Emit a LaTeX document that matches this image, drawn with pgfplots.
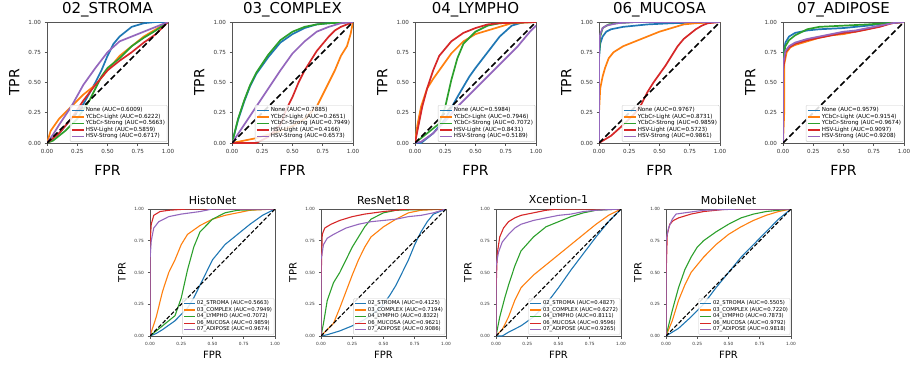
\documentclass[border=0pt]{standalone}
\usepackage{pgfplots}
\pgfplotsset{compat=1.18}
\usepackage{fontspec}
\setmainfont{DejaVu Sans}
\definecolor{c1}{HTML}{1F77B4}
\definecolor{c2}{HTML}{FF7F0E}
\definecolor{c3}{HTML}{2CA02C}
\definecolor{c4}{HTML}{D62728}
\definecolor{c5}{HTML}{9467BD}
\definecolor{fr}{HTML}{555555}
\pgfplotsset{
  every axis title/.style={at={(0.5,1)}, anchor=center},
  rocbase/.style={scale only axis, xmin=0, xmax=1, ymin=0, ymax=1,
    xtick={0,0.25,0.5,0.75,1}, ytick={0,0.25,0.5,0.75,1},
    xticklabels={0.00,0.25,0.50,0.75,1.00}, yticklabels={0.00,0.25,0.50,0.75,1.00},
    tick align=outside, xtick pos=bottom, ytick pos=left,
    axis line style={fr, line width=1pt}, tick style={fr, line width=0.6pt},
    major tick length=2.5pt, clip=true,
    tick label style={text=black!80},
    legend cell align=left,
    legend style={at={(0.995,0.01)}, anchor=south east, draw=black!20, rounded corners=1pt,
      fill=white, fill opacity=0.85, text opacity=1, font=\fontsize{5.6}{6}\selectfont,
      row sep=-1.6pt, inner sep=1pt, nodes={inner sep=1.2pt}},
  },
  roctop/.style={rocbase, width=121pt, height=121pt,
    every tick label/.append style={font=\fontsize{5.6}{6}\selectfont},
    title style={font=\fontsize{15}{16}\selectfont, at={(axis description cs:0.5,1.1)}, anchor=center},
    xlabel style={font=\fontsize{14}{15}\selectfont, at={(axis description cs:0.5,-0.225)}, anchor=center},
    ylabel style={font=\fontsize{14}{15}\selectfont, at={(axis description cs:-0.27,0.5)}, anchor=center, rotate=0},
    every axis plot/.append style={line width=1.7pt},
    legend image code/.code={\draw[#1, line width=1.5pt] (0pt,0pt) -- (12pt,0pt);},
    xlabel=FPR, ylabel=TPR},
  rocbot/.style={rocbase, width=125pt, height=127pt,
    every tick label/.append style={font=\fontsize{4.3}{4.6}\selectfont},
    title style={font=\fontsize{11}{12}\selectfont, at={(axis description cs:0.5,1.07)}, anchor=center},
    xlabel style={font=\fontsize{10}{11}\selectfont, at={(axis description cs:0.5,-0.15)}, anchor=center},
    ylabel style={font=\fontsize{10}{11}\selectfont, at={(axis description cs:-0.225,0.5)}, anchor=center},
    every axis plot/.append style={line width=1.1pt},
    legend style={font=\fontsize{5.3}{5.7}\selectfont, row sep=-1.4pt},
    legend image code/.code={\draw[#1, line width=1.1pt] (0pt,0pt) -- (11pt,0pt);},
    xlabel=FPR, ylabel=TPR},
  diagtop/.style={black, line width=1.6pt, dash pattern=on 6pt off 3pt, forget plot},
  diagbot/.style={black, line width=1.1pt, dash pattern=on 4pt off 2pt, forget plot},
}
\begin{document}
\begin{tikzpicture}
\path[use as bounding box] (0,0) rectangle (913pt,365pt);
% ---------------- 02_STROMA
\begin{axis}[roctop, at={(47pt,222pt)}, anchor=south west, title={02\_STROMA}]
\addplot[c1] coordinates {(0,0)(0.1,0.08)(0.2,0.2)(0.3,0.32)(0.4,0.5)(0.45,0.6)(0.5,0.72)(0.55,0.82)(0.6,0.88)(0.7,0.96)(0.8,0.99)(0.9,1)(1,1)};
\addlegendentry{None (AUC=0.6009)}
\addplot[c2] coordinates {(0,0)(0.03,0.1)(0.1,0.2)(0.2,0.3)(0.3,0.4)(0.4,0.48)(0.5,0.6)(0.6,0.72)(0.7,0.8)(0.8,0.88)(0.9,0.94)(1,1)};
\addlegendentry{YCbCr-Light (AUC=0.6222)}
\addplot[c3] coordinates {(0,0)(0.05,0.02)(0.15,0.1)(0.25,0.2)(0.35,0.35)(0.45,0.55)(0.5,0.62)(0.6,0.7)(0.7,0.8)(0.8,0.87)(0.9,0.93)(1,1)};
\addlegendentry{YCbCr-Strong (AUC=0.5663)}
\addplot[c4] coordinates {(0,0)(0.1,0.08)(0.2,0.2)(0.3,0.35)(0.4,0.48)(0.5,0.6)(0.6,0.68)(0.7,0.75)(0.8,0.83)(0.9,0.9)(1,1)};
\addlegendentry{HSV-Light (AUC=0.5859)}
\addplot[c5] coordinates {(0,0)(0.05,0.07)(0.1,0.15)(0.2,0.3)(0.3,0.48)(0.4,0.62)(0.5,0.75)(0.6,0.84)(0.7,0.88)(0.8,0.92)(0.9,0.96)(1,1)};
\addlegendentry{HSV-Strong (AUC=0.6717)}
\addplot[diagtop] coordinates {(0,0)(1,1)};
\end{axis}
% ---------------- 03_COMPLEX
\begin{axis}[roctop, at={(232pt,222pt)}, anchor=south west, title={03\_COMPLEX}]
\addplot[c1] coordinates {(0,0)(0.05,0.19)(0.1,0.34)(0.15,0.47)(0.2,0.57)(0.3,0.71)(0.4,0.83)(0.5,0.9)(0.6,0.95)(0.7,0.98)(0.8,0.99)(1,1)};
\addlegendentry{None (AUC=0.7885)}
\addplot[c2] coordinates {(0,0)(0.1,0.02)(0.2,0.04)(0.3,0.07)(0.4,0.1)(0.5,0.14)(0.6,0.2)(0.7,0.3)(0.75,0.4)(0.8,0.5)(0.85,0.6)(0.9,0.72)(0.95,0.8)(0.98,0.9)(1,1)};
\addlegendentry{YCbCr-Light (AUC=0.2651)}
\addplot[c3] coordinates {(0,0)(0.05,0.2)(0.1,0.35)(0.15,0.48)(0.2,0.58)(0.3,0.73)(0.4,0.85)(0.5,0.92)(0.6,0.96)(0.7,0.98)(0.8,0.99)(1,1)};
\addlegendentry{YCbCr-Strong (AUC=0.7949)}
\addplot[c4] coordinates {(0,0)(0.2,0.0)(0.3,0.05)(0.4,0.15)(0.45,0.28)(0.5,0.38)(0.55,0.5)(0.6,0.6)(0.65,0.68)(0.7,0.76)(0.75,0.82)(0.8,0.88)(0.85,0.93)(0.9,0.96)(1,1)};
\addlegendentry{HSV-Light (AUC=0.4166)}
\addplot[c5] coordinates {(0,0)(0.1,0.15)(0.2,0.3)(0.3,0.45)(0.4,0.6)(0.5,0.74)(0.6,0.84)(0.7,0.92)(0.8,0.96)(0.9,0.99)(1,1)};
\addlegendentry{HSV-Strong (AUC=0.6573)}
\addplot[diagtop] coordinates {(0,0)(1,1)};
\end{axis}
% ---------------- 04_LYMPHO
\begin{axis}[roctop, at={(415pt,222pt)}, anchor=south west, title={04\_LYMPHO}]
\addplot[c1] coordinates {(0,0)(0.05,0)(0.15,0.08)(0.25,0.2)(0.35,0.38)(0.45,0.55)(0.5,0.62)(0.6,0.75)(0.7,0.88)(0.8,0.97)(0.9,1)(1,1)};
\addlegendentry{None (AUC=0.5984)}
\addplot[c2] coordinates {(0,0)(0.02,0.15)(0.05,0.3)(0.1,0.45)(0.15,0.53)(0.2,0.6)(0.3,0.74)(0.4,0.84)(0.5,0.9)(0.6,0.93)(0.7,0.96)(0.8,0.99)(1,1)};
\addlegendentry{YCbCr-Light (AUC=0.7946)}
\addplot[c3] coordinates {(0,0)(0.1,0.08)(0.2,0.16)(0.25,0.3)(0.3,0.52)(0.35,0.7)(0.4,0.82)(0.5,0.92)(0.6,0.97)(0.7,0.99)(1,1)};
\addlegendentry{YCbCr-Strong (AUC=0.7072)}
\addplot[c4] coordinates {(0,0)(0.03,0.15)(0.06,0.3)(0.1,0.45)(0.15,0.6)(0.2,0.72)(0.3,0.84)(0.4,0.91)(0.5,0.95)(0.6,0.98)(0.7,0.99)(1,1)};
\addlegendentry{HSV-Light (AUC=0.8431)}
\addplot[c5] coordinates {(0,0)(0.05,0.01)(0.15,0.08)(0.25,0.18)(0.35,0.3)(0.45,0.4)(0.55,0.5)(0.65,0.6)(0.75,0.7)(0.85,0.8)(0.95,0.92)(1,0.97)};
\addlegendentry{HSV-Strong (AUC=0.5189)}
\addplot[diagtop] coordinates {(0,0)(1,1)};
\end{axis}
% ---------------- 06_MUCOSA
\begin{axis}[roctop, at={(599pt,222pt)}, anchor=south west, title={06\_MUCOSA}]
\addplot[c1] coordinates {(0,0)(0,0.7)(0.01,0.82)(0.03,0.88)(0.06,0.92)(0.1,0.94)(0.2,0.96)(0.4,0.98)(0.6,0.99)(1,1)};
\addlegendentry{None (AUC=0.9767)}
\addplot[c2] coordinates {(0,0)(0,0.25)(0.01,0.45)(0.03,0.55)(0.05,0.62)(0.08,0.7)(0.12,0.75)(0.2,0.8)(0.3,0.84)(0.4,0.88)(0.5,0.92)(0.6,0.95)(0.7,0.98)(0.8,0.99)(1,1)};
\addlegendentry{YCbCr-Light (AUC=0.8731)}
\addplot[c3] coordinates {(0,0)(0,0.72)(0.01,0.88)(0.03,0.95)(0.08,0.98)(0.15,0.99)(0.3,1)(1,1)};
\addlegendentry{YCbCr-Strong (AUC=0.9859)}
\addplot[c4] coordinates {(0,0)(0.1,0.06)(0.2,0.15)(0.3,0.25)(0.35,0.32)(0.4,0.42)(0.45,0.5)(0.5,0.57)(0.55,0.64)(0.6,0.72)(0.65,0.8)(0.7,0.86)(0.75,0.9)(0.8,0.94)(0.85,0.97)(0.9,0.99)(1,1)};
\addlegendentry{HSV-Light (AUC=0.5723)}
\addplot[c5] coordinates {(0,0)(0,0.8)(0.01,0.9)(0.03,0.95)(0.06,0.97)(0.15,0.99)(0.3,1)(1,1)};
\addlegendentry{HSV-Strong (AUC=0.9861)}
\addplot[diagtop] coordinates {(0,0)(1,1)};
\end{axis}
% ---------------- 07_ADIPOSE
\begin{axis}[roctop, at={(783pt,222pt)}, anchor=south west, title={07\_ADIPOSE}]
\addplot[c1] coordinates {(0,0)(0,0.7)(0.02,0.83)(0.05,0.88)(0.1,0.91)(0.2,0.93)(0.3,0.94)(0.5,0.95)(0.7,0.97)(0.85,0.99)(1,1)};
\addlegendentry{None (AUC=0.9579)}
\addplot[c2] coordinates {(0,0)(0.01,0.25)(0.01,0.65)(0.03,0.75)(0.06,0.79)(0.1,0.81)(0.2,0.84)(0.3,0.87)(0.4,0.89)(0.5,0.9)(0.6,0.92)(0.7,0.94)(0.8,0.97)(0.9,0.99)(1,1)};
\addlegendentry{YCbCr-Light (AUC=0.9154)}
\addplot[c3] coordinates {(0,0)(0,0.7)(0.02,0.8)(0.05,0.85)(0.1,0.89)(0.2,0.94)(0.3,0.96)(0.5,0.97)(0.7,0.98)(0.85,0.99)(1,1)};
\addlegendentry{YCbCr-Strong (AUC=0.9674)}
\addplot[c4] coordinates {(0,0)(0,0.6)(0.02,0.75)(0.05,0.79)(0.1,0.82)(0.2,0.85)(0.3,0.87)(0.4,0.89)(0.5,0.91)(0.6,0.92)(0.7,0.94)(0.8,0.96)(0.9,0.99)(1,1)};
\addlegendentry{HSV-Light (AUC=0.9097)}
\addplot[c5] coordinates {(0,0)(0,0.65)(0.02,0.76)(0.05,0.8)(0.1,0.83)(0.2,0.86)(0.3,0.88)(0.4,0.9)(0.5,0.92)(0.6,0.93)(0.7,0.95)(0.8,0.97)(0.9,0.99)(1,1)};
\addlegendentry{HSV-Strong (AUC=0.9208)}
\addplot[diagtop] coordinates {(0,0)(1,1)};
\end{axis}
% ---------------- HistoNet
\begin{axis}[rocbot, at={(150pt,29pt)}, anchor=south west, title={HistoNet}]
\addplot[c1] coordinates {(0,0)(0.05,0.02)(0.1,0.05)(0.2,0.12)(0.3,0.22)(0.35,0.3)(0.4,0.4)(0.45,0.5)(0.5,0.6)(0.55,0.66)(0.6,0.72)(0.7,0.8)(0.8,0.88)(0.9,0.95)(1,1)};
\addlegendentry{02\_STROMA (AUC=0.5663)}
\addplot[c2] coordinates {(0,0)(0.05,0.15)(0.1,0.35)(0.15,0.5)(0.2,0.6)(0.25,0.72)(0.3,0.8)(0.4,0.87)(0.5,0.92)(0.6,0.95)(0.7,0.97)(0.8,0.99)(1,1)};
\addlegendentry{03\_COMPLEX (AUC=0.7949)}
\addplot[c3] coordinates {(0,0)(0.1,0.08)(0.2,0.16)(0.25,0.3)(0.3,0.52)(0.35,0.7)(0.4,0.82)(0.5,0.92)(0.6,0.97)(0.7,0.99)(1,1)};
\addlegendentry{04\_LYMPHO (AUC=0.7072)}
\addplot[c4] coordinates {(0,0)(0,0.72)(0.01,0.88)(0.03,0.95)(0.08,0.98)(0.15,0.99)(0.3,1)(1,1)};
\addlegendentry{06\_MUCOSA (AUC=0.9859)}
\addplot[c5] coordinates {(0,0)(0,0.6)(0.01,0.75)(0.03,0.85)(0.07,0.9)(0.15,0.94)(0.25,0.96)(0.4,0.98)(0.5,1)(1,1)};
\addlegendentry{07\_ADIPOSE (AUC=0.9674)}
\addplot[diagbot] coordinates {(0,0)(1,1)};
\end{axis}
% ---------------- ResNet18
\begin{axis}[rocbot, at={(321pt,29pt)}, anchor=south west, title={ResNet18}]
\addplot[c1] coordinates {(0,0)(0.05,0.01)(0.15,0.04)(0.25,0.08)(0.35,0.13)(0.45,0.2)(0.5,0.25)(0.55,0.32)(0.6,0.4)(0.65,0.5)(0.7,0.6)(0.75,0.72)(0.8,0.82)(0.85,0.9)(0.9,0.96)(1,1)};
\addlegendentry{02\_STROMA (AUC=0.4125)}
\addplot[c2] coordinates {(0,0)(0.05,0.05)(0.1,0.1)(0.15,0.22)(0.2,0.35)(0.25,0.48)(0.3,0.6)(0.35,0.7)(0.4,0.78)(0.5,0.86)(0.6,0.92)(0.7,0.97)(0.8,0.99)(1,1)};
\addlegendentry{03\_COMPLEX (AUC=0.7194)}
\addplot[c3] coordinates {(0,0)(0.02,0.1)(0.05,0.28)(0.1,0.42)(0.15,0.5)(0.2,0.6)(0.25,0.7)(0.3,0.78)(0.35,0.86)(0.4,0.92)(0.5,0.97)(0.6,0.99)(1,1)};
\addlegendentry{04\_LYMPHO (AUC=0.8322)}
\addplot[c4] coordinates {(0,0)(0,0.42)(0.01,0.8)(0.03,0.85)(0.08,0.88)(0.15,0.91)(0.25,0.94)(0.35,0.96)(0.5,0.98)(0.6,0.99)(0.7,1)(1,1)};
\addlegendentry{06\_MUCOSA (AUC=0.9621)}
\addplot[c5] coordinates {(0,0)(0,0.6)(0.02,0.72)(0.05,0.77)(0.1,0.8)(0.2,0.85)(0.3,0.88)(0.4,0.9)(0.5,0.91)(0.6,0.92)(0.7,0.94)(0.8,0.95)(0.9,0.97)(1,1)};
\addlegendentry{07\_ADIPOSE (AUC=0.9086)}
\addplot[diagbot] coordinates {(0,0)(1,1)};
\end{axis}
% ---------------- Xception-1
\begin{axis}[rocbot, at={(496pt,29pt)}, anchor=south west, title={Xception-1}]
\addplot[c1] coordinates {(0,0)(0.05,0)(0.1,0.03)(0.2,0.08)(0.3,0.15)(0.4,0.25)(0.5,0.38)(0.55,0.45)(0.6,0.52)(0.7,0.65)(0.8,0.78)(0.9,0.9)(1,1)};
\addlegendentry{02\_STROMA (AUC=0.4827)}
\addplot[c2] coordinates {(0,0)(0.05,0.05)(0.1,0.15)(0.15,0.28)(0.2,0.38)(0.3,0.48)(0.4,0.56)(0.5,0.64)(0.6,0.72)(0.7,0.8)(0.8,0.88)(0.9,0.95)(1,1)};
\addlegendentry{03\_COMPLEX (AUC=0.6272)}
\addplot[c3] coordinates {(0,0)(0.03,0.15)(0.07,0.3)(0.1,0.4)(0.15,0.55)(0.2,0.67)(0.3,0.78)(0.4,0.86)(0.5,0.9)(0.6,0.94)(0.7,0.97)(0.8,0.99)(1,1)};
\addlegendentry{04\_LYMPHO (AUC=0.8111)}
\addplot[c4] coordinates {(0,0)(0,0.35)(0.01,0.65)(0.03,0.78)(0.06,0.85)(0.1,0.9)(0.15,0.93)(0.2,0.95)(0.3,0.97)(0.4,0.99)(0.5,1)(1,1)};
\addlegendentry{06\_MUCOSA (AUC=0.9596)}
\addplot[c5] coordinates {(0,0)(0,0.55)(0.02,0.66)(0.05,0.74)(0.1,0.8)(0.15,0.85)(0.2,0.88)(0.3,0.91)(0.4,0.93)(0.5,0.95)(0.6,0.96)(0.7,0.98)(0.8,0.99)(1,1)};
\addlegendentry{07\_ADIPOSE (AUC=0.9265)}
\addplot[diagbot] coordinates {(0,0)(1,1)};
\end{axis}
% ---------------- MobileNet
\begin{axis}[rocbot, at={(666pt,29pt)}, anchor=south west, title={MobileNet}]
\addplot[c1] coordinates {(0,0)(0.05,0.03)(0.1,0.06)(0.2,0.15)(0.3,0.25)(0.4,0.38)(0.5,0.5)(0.6,0.62)(0.7,0.72)(0.8,0.82)(0.9,0.92)(1,1)};
\addlegendentry{02\_STROMA (AUC=0.5505)}
\addplot[c2] coordinates {(0,0)(0.05,0.12)(0.1,0.28)(0.15,0.4)(0.2,0.5)(0.3,0.62)(0.4,0.72)(0.5,0.8)(0.6,0.86)(0.7,0.91)(0.8,0.95)(0.9,0.98)(1,1)};
\addlegendentry{03\_COMPLEX (AUC=0.7220)}
\addplot[c3] coordinates {(0,0)(0.05,0.2)(0.1,0.38)(0.15,0.52)(0.2,0.62)(0.25,0.7)(0.3,0.75)(0.4,0.82)(0.5,0.88)(0.6,0.93)(0.7,0.96)(0.8,0.98)(1,1)};
\addlegendentry{04\_LYMPHO (AUC=0.7873)}
\addplot[c4] coordinates {(0,0)(0,0.45)(0.01,0.8)(0.03,0.88)(0.06,0.91)(0.1,0.93)(0.2,0.96)(0.3,0.98)(0.5,1)(1,1)};
\addlegendentry{06\_MUCOSA (AUC=0.9792)}
\addplot[c5] coordinates {(0,0)(0,0.75)(0.02,0.85)(0.05,0.92)(0.08,0.96)(0.15,0.97)(0.3,0.99)(0.6,1)(1,1)};
\addlegendentry{07\_ADIPOSE (AUC=0.9818)}
\addplot[diagbot] coordinates {(0,0)(1,1)};
\end{axis}
\end{tikzpicture}
\end{document}
